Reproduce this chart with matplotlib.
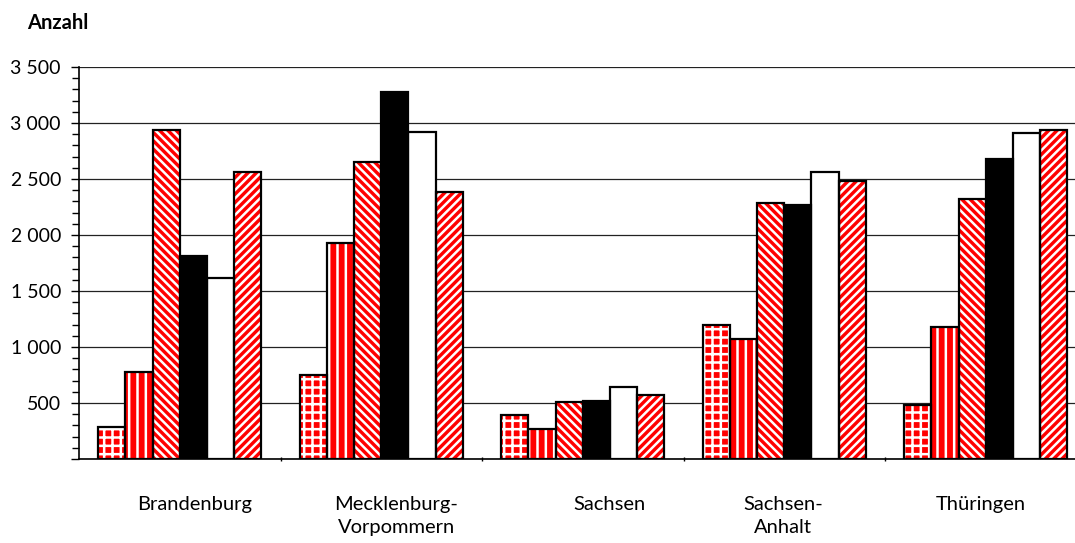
import matplotlib
matplotlib.use("Agg")
import matplotlib.pyplot as plt
import matplotlib.transforms as mtransforms
import numpy as np
from matplotlib.ticker import MultipleLocator, FuncFormatter

plt.rcParams['font.family'] = ['Lato', 'DejaVu Sans']
plt.rcParams['hatch.linewidth'] = 1.8

laender = ["Brandenburg", "Mecklenburg-\nVorpommern", "Sachsen", "Sachsen-\nAnhalt", "Thüringen"]

# six series per Land, drawn left to right in each group
serie_1 = [290, 750, 390, 1195, 480]
serie_2 = [780, 1930, 270, 1070, 1180]
serie_3 = [2940, 2650, 505, 2285, 2320]
serie_4 = [1810, 3280, 520, 2270, 2680]
serie_5 = [1615, 2920, 640, 2560, 2915]
serie_6 = [2560, 2385, 570, 2480, 2940]

serien = [serie_1, serie_2, serie_3, serie_4, serie_5, serie_6]
# (face, hatch colour, hatch)
stile = [
    ("#ff0000", "white", "++"),
    ("#ff0000", "white", "||"),
    ("#ff0000", "white", "\\\\\\\\"),
    ("black", "black", None),
    ("white", "white", None),
    ("#ff0000", "white", "////"),
]

fig = plt.figure(figsize=(10.75, 5.43), dpi=100)
ax = fig.add_axes([79 / 1075, 84 / 543, 1007.5 / 1075, 392 / 543])

x = np.arange(len(laender))
w = 0.135
for i, (werte, (face, hc, hatch)) in enumerate(zip(serien, stile)):
    pos = x + (i - 2.5) * w
    if hatch:
        ax.bar(pos, werte, w, color=face, edgecolor=hc, hatch=hatch, linewidth=0, zorder=2)
    else:
        ax.bar(pos, werte, w, color=face, linewidth=0, zorder=2)
    ax.bar(pos, werte, w, fill=False, edgecolor="black", linewidth=1.6, zorder=3)

ax.set_xlim(-0.5, len(laender) - 0.5)
ax.set_ylim(0, 3500)

ax.yaxis.set_major_locator(MultipleLocator(500))
ax.yaxis.set_minor_locator(MultipleLocator(100))
ax.yaxis.set_major_formatter(FuncFormatter(
    lambda v, _: "" if v == 0 else f"{int(v):,}".replace(",", " ")))
ax.tick_params(axis="y", which="both", direction="out", length=6, width=1,
               labelsize=14, pad=7, colors="black")
ax.tick_params(axis="y", which="minor", length=5)
ax.grid(axis="y", which="major", color="#222222", linewidth=0.9)
ax.set_axisbelow(True)

# small separators between the groups on the x axis
ax.set_xticks(np.arange(0.5, len(laender) - 1, 1.0))
ax.set_xticklabels([])
ax.tick_params(axis="x", direction="inout", length=3, width=1)

for side in ("top", "right"):
    ax.spines[side].set_visible(False)
ax.spines["left"].set_linewidth(1.2)
ax.spines["bottom"].set_linewidth(1.2)

# category labels, nudged a little per Land
label_dx = [15, 15, 27, -1, -5]
trans = mtransforms.blended_transform_factory(ax.transData, fig.transFigure)
for xi, name, dx in zip(x, laender, label_dx):
    off = mtransforms.ScaledTranslation(dx / 100, 0, fig.dpi_scale_trans)
    ax.text(xi, 1 - 496 / 543, name, transform=trans + off, ha="center", va="top",
            fontsize=14.5, linespacing=1.45, clip_on=False)

fig.text(27 / 1075, 1 - 23 / 543, "Anzahl", fontsize=14.5, fontweight="bold",
         ha="left", va="center")

fig.savefig("out.png", dpi=100)
